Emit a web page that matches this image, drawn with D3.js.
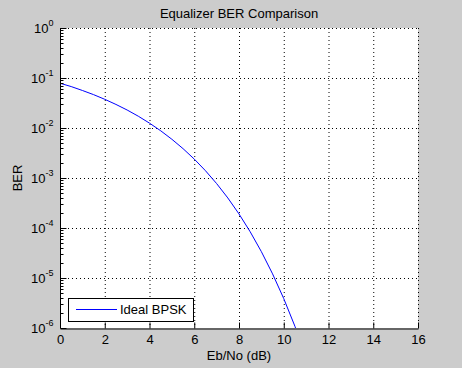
<!DOCTYPE html>
<html><head><meta charset="utf-8">
<script src="https://cdn.jsdelivr.net/npm/d3@7"></script>
<style>
body{margin:0;background:#cccccc;}
svg{display:block;font-family:"Liberation Sans",Arial,sans-serif;}
</style></head>
<body><svg id="c" width="462" height="368"></svg>
<script>
// Data
const ebno = [0,0.5,1,1.5,2,2.5,3,3.5,4,4.5,5,5.5,6,6.5,7,7.5,8,8.5,9,9.5,10,10.5,11];
const ber  = [7.86e-2,6.74e-2,5.63e-2,4.65e-2,3.75e-2,2.96e-2,2.29e-2,1.72e-2,1.25e-2,8.8e-3,5.95e-3,3.86e-3,2.39e-3,1.40e-3,7.73e-4,3.99e-4,1.91e-4,8.4e-5,3.36e-5,1.21e-5,3.87e-6,1.08e-6,2.6e-7];
const xTicks = [0,2,4,6,8,10,12,14,16];
const yExps = [-6,-5,-4,-3,-2,-1,0];
const title = "Equalizer BER Comparison";
const xLabel = "Eb/No (dB)";
const yLabel = "BER";
const legendLabel = "Ideal BPSK";

const svg = d3.select("#c");
const L=60,R=418,T=28,B=328;
const x = d3.scaleLinear().domain([0,16]).range([L,R]);
const y = d3.scaleLog().domain([1e-6,1]).range([B,T]);

svg.append("rect").attr("x",L).attr("y",T).attr("width",R-L).attr("height",B-T).attr("fill","#fff");

svg.append("clipPath").attr("id","clip").append("rect").attr("x",L).attr("y",T).attr("width",R-L).attr("height",B-T);

// grid
const g = svg.append("g").attr("stroke","#000").attr("stroke-width",1).attr("stroke-dasharray","1,3");
xTicks.forEach(t=>{ if(t>0) g.append("line").attr("x1",x(t)+0.5).attr("x2",x(t)+0.5).attr("y1",T).attr("y2",B); });
yExps.forEach(e=>{ if(e>-6) g.append("line").attr("x1",L).attr("x2",R).attr("y1",Math.round(y(Math.pow(10,e)))+0.5).attr("y2",Math.round(y(Math.pow(10,e)))+0.5); });

// curve
svg.append("path").datum(ebno.map((d,i)=>[d,ber[i]]))
  .attr("clip-path","url(#clip)")
  .attr("fill","none").attr("stroke","#0000ff").attr("stroke-width",1)
  .attr("d",d3.line().x(d=>x(d[0])).y(d=>y(d[1])));

// axes
const xAxis = d3.axisBottom(x).tickValues(xTicks).tickSizeInner(-6).tickSizeOuter(0).tickPadding(6).tickFormat(d3.format("d"));
const gx = svg.append("g").attr("transform",`translate(0,${B+0.5})`).call(xAxis);
gx.selectAll("text").attr("font-size",13).attr("fill","#000").attr("font-family","Liberation Sans, Arial, sans-serif");
gx.select(".domain").attr("stroke","#000");

const minor = [];
yExps.forEach(e=>{ if(e<0) for(let k=2;k<=9;k++) minor.push(k*Math.pow(10,e)); });
const gy = svg.append("g").attr("transform",`translate(${L+0.5},0)`);
gy.append("line").attr("x1",0).attr("x2",0).attr("y1",T).attr("y2",B).attr("stroke","#000");
minor.forEach(v=>{ gy.append("line").attr("x1",0).attr("x2",3).attr("y1",Math.round(y(v))+0.5).attr("y2",Math.round(y(v))+0.5).attr("stroke","#000"); });
yExps.forEach(e=>{
  const yy = Math.round(y(Math.pow(10,e)))+0.5;
  gy.append("line").attr("x1",0).attr("x2",6).attr("y1",yy).attr("y2",yy).attr("stroke","#000");
  const t = gy.append("text").attr("x",-7).attr("y",yy+4).attr("text-anchor","end").attr("font-size",13).attr("fill","#000");
  t.append("tspan").text("10");
  t.append("tspan").attr("dy",-7).attr("font-size",9).text(String(e));
});
gy.selectAll("text").each(function(){
  const bb=this.getBBox();
  d3.select(this).attr("text-anchor","start").attr("x",-7-bb.width);
});

// title & labels
svg.append("text").attr("x",(L+R)/2).attr("y",18).attr("text-anchor","middle").attr("font-size",13).text(title);
svg.append("text").attr("x",(L+R)/2).attr("y",360).attr("text-anchor","middle").attr("font-size",13).text(xLabel);
svg.append("text").attr("transform",`translate(22,${(T+B)/2}) rotate(-90)`).attr("text-anchor","middle").attr("font-size",13).text(yLabel);

// legend
const lg = svg.append("g");
lg.append("rect").attr("x",68.5).attr("y",298.5).attr("width",125).attr("height",23).attr("fill","#fff").attr("stroke","#000");
lg.append("line").attr("x1",76).attr("x2",117).attr("y1",309.5).attr("y2",309.5).attr("stroke","#0000ff");
lg.append("text").attr("x",120).attr("y",314).attr("font-size",13).text(legendLabel);
</script></body></html>
